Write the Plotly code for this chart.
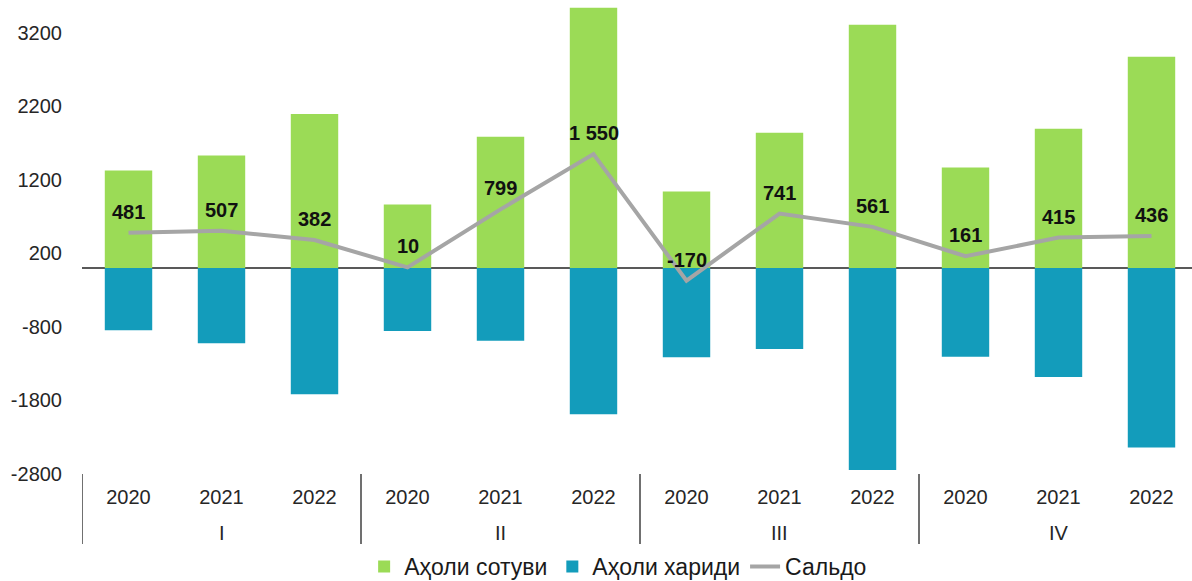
import plotly.graph_objects as go

quarters = ["I", "II", "III", "IV"]
years = ["2020", "2021", "2022"]
sales = [1326, 1530, 2097, 865, 1787, 3539, 1041, 1842, 3308, 1367, 1896, 2874]
purchases = [-845, -1023, -1715, -855, -988, -1989, -1211, -1101, -2747, -1206, -1481, -2438]
saldo = [481, 507, 382, 10, 799, 1550, -170, 741, 561, 161, 415, 436]
names = ["Аҳоли сотуви", "Аҳоли хариди", "Сальдо"]
ytickvals = [-2800, -1800, -800, 200, 1200, 2200, 3200]

keys = [f"{q} {y}" for q in quarters for y in years]
yearlabels = [y for _ in quarters for y in years]

font = "Liberation Sans, Arial, sans-serif"
W, H = 1192, 581
ML, MT, MB = 82, 0, 107
plot_h = H - MT - MB
plot_w = W - ML
cat_px = 93

fig = go.Figure()
fig.add_trace(go.Bar(x=keys, y=sales, name=names[0], marker_color="#9BDB56",
                     marker_line_width=0))
fig.add_trace(go.Bar(x=keys, y=purchases, name=names[1], marker_color="#139CBB",
                     marker_line_width=0))
fig.add_trace(go.Scatter(x=keys, y=saldo, name=names[2], mode="lines",
                         line=dict(color="#A5A5A5", width=4)))

for k, v in zip(keys, saldo):
    fig.add_annotation(x=k, y=v, text=f"{v:,}".replace(",", " "),
                       showarrow=False, yshift=21,
                       font=dict(family=font, size=20, color="#111111", weight="bold"))

# quarter group labels and dividers
n = len(years)
for i, q in enumerate(quarters):
    fig.add_annotation(x=keys[i * n + n // 2], y=0, xref="x", yref="paper",
                       text=q, showarrow=False, yshift=-59, yanchor="middle",
                       font=dict(family=font, size=20, color="#262626"))
for i in range(len(quarters) + 1):
    fig.add_shape(type="line", xref="x", yref="paper",
                  x0=i * n - 0.5, x1=i * n - 0.5, y0=0, y1=-70 / plot_h,
                  line=dict(color="#404040", width=1.5))

fig.update_layout(
    width=W, height=H,
    margin=dict(l=ML, r=0, t=MT, b=MB, autoexpand=False),
    paper_bgcolor="white", plot_bgcolor="white",
    barmode="relative", bargap=0.49,
    font=dict(family=font, color="#262626"),
    showlegend=True,
    legend=dict(orientation="h", x=0.483, xanchor="center", y=-71 / plot_h, yanchor="top",
                font=dict(size=23, color="#1a1a1a"), itemwidth=30,
                tracegroupgap=0),
)
fig.update_xaxes(type="category", range=[-0.5, -0.5 + plot_w / cat_px],
                 tickvals=keys, ticktext=yearlabels,
                 showgrid=False, showline=False, ticks="",
                 tickfont=dict(size=20, color="#262626"), ticklabelstandoff=9)
fig.update_yaxes(range=[-2800, 3646], tickvals=ytickvals,
                 ticktext=[str(v) for v in ytickvals], showgrid=False,
                 zeroline=True, zerolinecolor="#595959", zerolinewidth=1.5,
                 showline=False, tickfont=dict(size=20, color="#262626"),
                 ticklabelstandoff=19)

fig.write_html("out.html", config={"displayModeBar": False},
               post_script="document.body.style.margin='0';document.body.style.overflow='hidden';")
